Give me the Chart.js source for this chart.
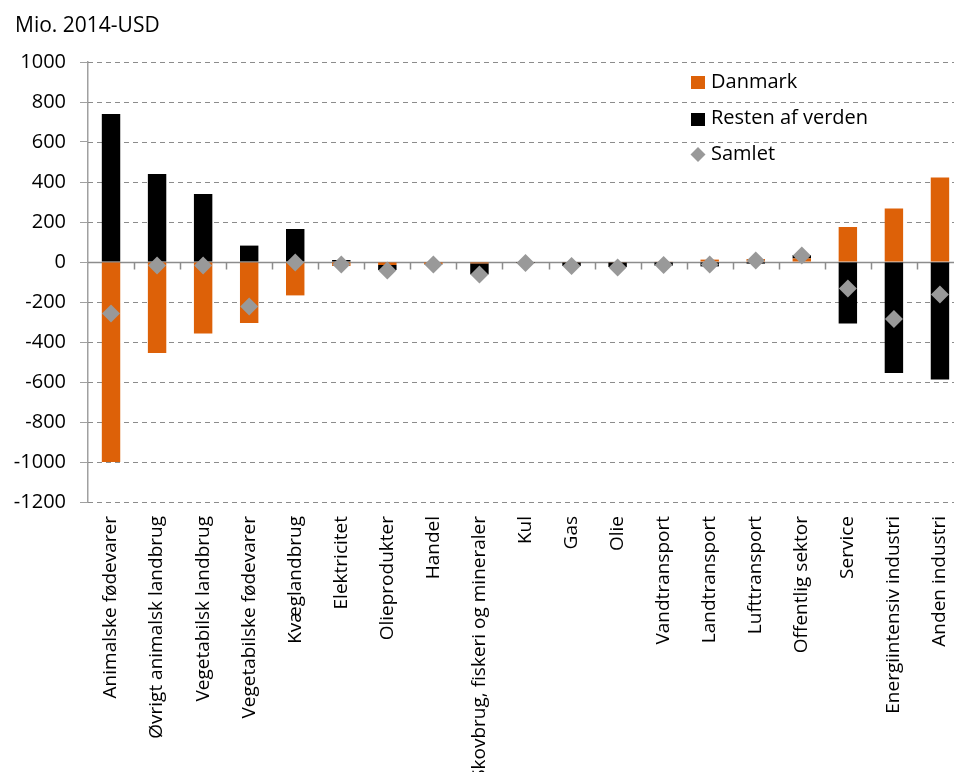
<!DOCTYPE html>
<html lang="da">
<head>
<meta charset="utf-8">
<title>Mio. 2014-USD</title>
<script src="https://cdn.jsdelivr.net/npm/chart.js@4"></script>
<style>
  html, body { margin: 0; padding: 0; background: #fff; overflow: hidden; }
  #chart { display: block; }
</style>
</head>
<body>
<canvas id="chart" width="977" height="772"></canvas>
<script>
/* Sektorer og ændringer, mio. 2014-USD */
const categories = [
  "Animalske fødevarer", "Øvrigt animalsk landbrug", "Vegetabilsk landbrug",
  "Vegetabilske fødevarer", "Kvæglandbrug", "Elektricitet", "Olieprodukter",
  "Handel", "Skovbrug, fiskeri og mineraler", "Kul", "Gas", "Olie",
  "Vandtransport", "Landtransport", "Lufttransport", "Offentlig sektor",
  "Service", "Energiintensiv industri", "Anden industri"
];
const danmark        = [-1000, -455, -358, -305, -167, -20, -15, -10,  -7, -2,  -3,  -3,   3,  12, 15, 18,  175,  268,  423];
const restenAfVerden = [  740,  440,  340,   82,  165,  10, -25,  -2, -55, -3, -17, -22, -18, -22, -8, 17, -308, -555, -588];
const samlet         = [ -258,  -17,  -17, -223,   -2, -12, -43, -12, -62, -5, -20, -28, -15, -12,  7, 33, -133, -285, -162];

const yMin = -1200, yMax = 1000, yStep = 200;

const ORANGE = "#DD6108";
const GREY_MARK = "#999999";
const FONT = "'Open Sans', sans-serif";

/* dashed horizontal grid, drawn under the bars */
const dashedGrid = {
  id: "dashedGrid",
  beforeDatasetsDraw(chart) {
    const { ctx, chartArea, scales: { y } } = chart;
    ctx.save();
    ctx.strokeStyle = "#8c8c8c";
    ctx.lineWidth = 1;
    ctx.setLineDash([5, 4]);
    ctx.beginPath();
    y.ticks.forEach(t => {
      if (t.value === 0) return;
      const py = Math.round(y.getPixelForValue(t.value)) + 0.5;
      ctx.moveTo(chartArea.left, py);
      ctx.lineTo(chartArea.right, py);
    });
    ctx.stroke();
    ctx.restore();
  }
};

/* solid zero line with small category ticks hanging below it */
const zeroAxis = {
  id: "zeroAxis",
  beforeDatasetsDraw(chart) {
    const { ctx, chartArea, scales: { x, y } } = chart;
    const y0 = Math.round(y.getPixelForValue(0)) + 0.5;
    ctx.save();
    ctx.strokeStyle = "#8c8c8c";
    ctx.lineWidth = 1.5;
    ctx.beginPath();
    ctx.moveTo(chartArea.left, y0);
    ctx.lineTo(chartArea.right, y0);
    for (let i = 1; i <= categories.length; i++) {
      const xb = Math.round(x.getPixelForValue(i - 0.5)) + 0.5;
      ctx.moveTo(xb, y0);
      ctx.lineTo(xb, y0 + 7);
    }
    ctx.stroke();
    ctx.restore();
  }
};

/* unit label and legend box */
const unitAndLegend = {
  id: "unitAndLegend",
  afterDraw(chart) {
    const { ctx } = chart;
    ctx.save();
    ctx.fillStyle = "#000";
    ctx.textBaseline = "middle";
    ctx.font = `21px ${FONT}`;
    ctx.fillText("Mio. 2014-USD", 15, 26);

    ctx.font = `20px ${FONT}`;
    const lx = 691, tx = 711;
    ctx.fillStyle = ORANGE;
    ctx.fillRect(lx, 76, 14, 13);
    ctx.fillStyle = "#000";
    ctx.fillText("Danmark", tx, 82);

    ctx.fillRect(lx, 113, 14, 13);
    ctx.fillText("Resten af verden", tx, 118);

    ctx.fillStyle = GREY_MARK;
    ctx.beginPath();
    ctx.moveTo(lx + 7, 147);
    ctx.lineTo(lx + 14.5, 154.5);
    ctx.lineTo(lx + 7, 162);
    ctx.lineTo(lx - 0.5, 154.5);
    ctx.closePath();
    ctx.fill();
    ctx.fillStyle = "#000";
    ctx.fillText("Samlet", tx, 154);
    ctx.restore();
  }
};

new Chart(document.getElementById("chart"), {
  type: "bar",
  data: {
    labels: categories,
    datasets: [
      {
        label: "Danmark",
        data: danmark,
        backgroundColor: ORANGE,
        borderWidth: 0,
        barPercentage: 0.4,
        categoryPercentage: 1,
        order: 1
      },
      {
        label: "Resten af verden",
        data: restenAfVerden,
        backgroundColor: "#000000",
        borderWidth: 0,
        barPercentage: 0.4,
        categoryPercentage: 1,
        order: 1
      },
      {
        type: "line",
        label: "Samlet",
        data: samlet,
        stack: "samlet",
        showLine: false,
        pointStyle: "rectRot",
        pointRadius: 9,
        pointBackgroundColor: GREY_MARK,
        pointBorderWidth: 0,
        order: 0
      }
    ]
  },
  options: {
    responsive: false,
    animation: false,
    devicePixelRatio: 1,
    layout: { padding: { top: 62, right: 5, bottom: 0, left: 0 } },
    plugins: {
      legend: { display: false },
      tooltip: { enabled: false }
    },
    scales: {
      x: {
        stacked: true,
        grid: { display: false, drawTicks: false, tickLength: 0 },
        border: { display: false },
        ticks: {
          color: "#000",
          font: { family: FONT, size: 19 },
          minRotation: 90,
          maxRotation: 90,
          autoSkip: false,
          padding: 14
        },
        afterFit(scale) { scale.height = 270; }
      },
      y: {
        stacked: true,
        min: yMin,
        max: yMax,
        grid: {
          drawOnChartArea: false,
          tickColor: "#a0a0a0",
          tickLength: 8
        },
        border: { display: true, color: "#a0a0a0", width: 1.5 },
        ticks: {
          stepSize: yStep,
          color: "#000",
          font: { family: FONT, size: 20 },
          padding: 14,
          callback: v => String(v)
        },
        afterFit(scale) { scale.width = 88; }
      }
    }
  },
  plugins: [dashedGrid, zeroAxis, unitAndLegend]
});
</script>
</body>
</html>
